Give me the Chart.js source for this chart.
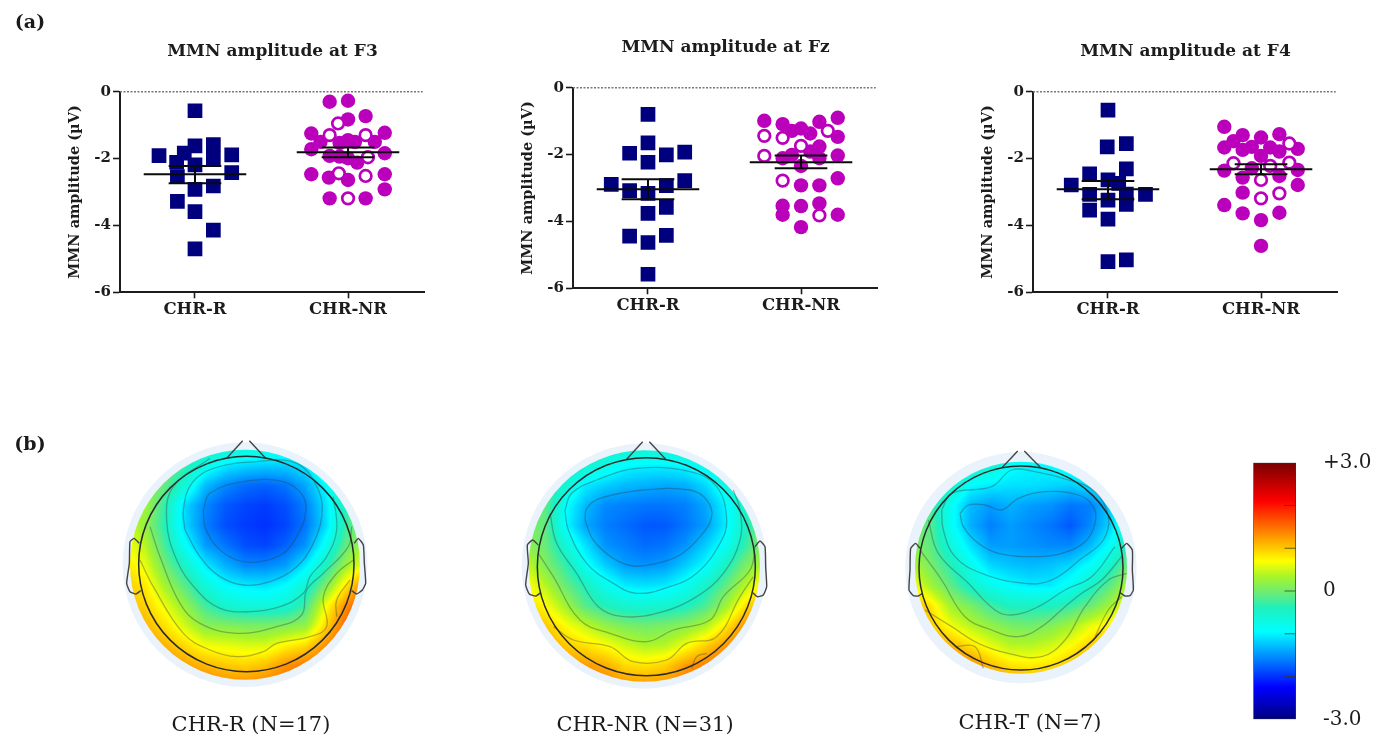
<!DOCTYPE html>
<html><head><meta charset="utf-8">
<script src="https://cdn.jsdelivr.net/npm/chart.js@4"></script>
<style>
html,body{margin:0;padding:0;background:#fff;overflow:hidden}
#page{position:relative;width:1375px;height:739px;overflow:hidden;filter:blur(0.45px)}
canvas{position:absolute}
.t{position:absolute;font-family:"DejaVu Serif",serif;color:#1a1a1a;white-space:nowrap;transform:translate(-50%,-50%)}
.p{font-weight:bold;font-size:19px}
.c{font-size:21px}
</style></head><body><div id="page">
<div class="t p" style="left:30px;top:21px">(a)</div>
<div class="t p" style="left:30px;top:443px">(b)</div>
<div class="t c" style="left:251px;top:724px">CHR-R (N=17)</div>
<div class="t c" style="left:645px;top:724px">CHR-NR (N=31)</div>
<div class="t c" style="left:1030px;top:722px">CHR-T (N=7)</div>
</div>
<script>
const categories=['CHR-R','CHR-NR'];
const yTicks=[0,-2,-4,-6];
const f3Rx=[1,.765,1,1.12,1.24,.93,.88,1.12,1,.885,1.24,1,1.12,.885,1,1.12,1];
const f3Ry=[-.57,-1.91,-1.62,-1.58,-1.89,-1.84,-2.11,-2.01,-2.19,-2.54,-2.42,-2.92,-2.82,-3.28,-3.59,-4.14,-4.70];
const f3Nx=[1.88,2,2.115,2,1.76,2.24,1.82,2.175,1.76,2.24,1.945,2,2.045,1.88,2,2.06,1.945,1.76,1.875,2,2.24,2.24,1.88,2.115];
const f3Ny=[-.30,-.27,-.73,-.83,-1.25,-1.23,-1.50,-1.50,-1.72,-1.84,-1.53,-1.45,-1.50,-1.92,-1.99,-2.12,-1.94,-2.47,-2.57,-2.64,-2.47,-2.92,-3.19,-3.19];
const f3Ox=[1.935,1.88,2.115,2.13,1.94,2.115,2];
const f3Oy=[-.95,-1.30,-1.30,-1.96,-2.44,-2.52,-3.19];
const f3Mean=[-2.47,-1.81], f3Up=[-2.22,-1.67], f3Low=[-2.74,-1.96];
const fzRx=[1,1,.88,1.12,1.24,1,.76,.88,1.12,1.24,1,1.12,1,.88,1.12,1,1];
const fzRy=[-.8,-1.65,-1.96,-2.01,-1.93,-2.23,-2.89,-3.08,-2.93,-2.78,-3.16,-3.58,-3.76,-4.44,-4.42,-4.63,-5.58];
const fzNx=[1.76,1.88,1.94,2,2.06,2.12,2.24,2.24,2.12,2.06,1.94,1.88,2,2.24,2.12,2.24,2,2.12,1.88,2,2.12,1.88,2.24,2];
const fzNy=[-.99,-1.09,-1.29,-1.22,-1.37,-1.02,-.90,-1.47,-1.76,-1.91,-2.01,-2.11,-2.34,-2.03,-2.11,-2.71,-2.92,-2.92,-3.53,-3.54,-3.46,-3.80,-3.80,-4.17];
const fzOx=[1.76,1.88,2.175,2,1.76,1.88,2.12];
const fzOy=[-1.44,-1.50,-1.29,-1.74,-2.04,-2.78,-3.82];
const fzMean=[-3.04,-2.23], fzUp=[-2.74,-2.03], fzLow=[-3.34,-2.41];
const f4Rx=[1,.995,1.12,1.12,.88,.76,1,1.07,.88,1,1.12,1.12,1.245,.88,1,1,1.12];
const f4Ry=[-.55,-1.65,-1.55,-2.31,-2.46,-2.79,-2.64,-2.74,-3.07,-3.24,-3.06,-3.37,-3.07,-3.54,-3.81,-5.08,-5.03];
const f4Nx=[1.76,1.88,1.82,2,2.12,1.76,1.88,1.94,2.06,2.12,2.24,2,1.76,1.94,2.24,1.88,2.12,2.24,1.88,1.76,1.88,2.12,2,2];
const f4Ny=[-1.05,-1.30,-1.48,-1.37,-1.27,-1.67,-1.74,-1.65,-1.67,-1.79,-1.71,-1.92,-2.36,-2.29,-2.34,-2.57,-2.52,-2.79,-3.02,-3.39,-3.64,-3.62,-3.84,-4.61];
const f4Ox=[2.185,1.82,2.06,2.185,2,2.12,2];
const f4Oy=[-1.55,-2.14,-2.22,-2.12,-2.64,-3.04,-3.19];
const f4Mean=[-2.92,-2.32], f4Up=[-2.67,-2.17], f4Low=[-3.22,-2.47];

// scalp maps: amplitude (µV) sampled on a coarse grid of the map area
const gridNodes=[45,105,165,225,285,345,405,465,525,585,645,705,765];
const topoR=[
[.3,.25,.1,-.1,-.3,-.45,-.55,-.6,-.6,-.45,-.2,.1,.3],
[.4,.3,.1,-.3,-.75,-1.05,-1.15,-1.2,-1.2,-1.05,-.6,-.1,.3],
[.45,.3,-.1,-.65,-1.3,-1.55,-1.7,-1.75,-1.65,-1.4,-.95,-.3,.2],
[.5,.3,-.35,-1.15,-1.55,-1.8,-1.9,-1.95,-1.85,-1.6,-1.1,-.4,.15],
[.55,.2,-.4,-1.15,-1.6,-1.85,-1.95,-2.0,-1.9,-1.65,-1.15,-.3,.25],
[.7,.4,-.25,-.9,-1.45,-1.65,-1.85,-1.9,-1.75,-1.5,-.85,-.1,.4],
[.85,.6,.0,-.5,-1.05,-1.35,-1.55,-1.55,-1.45,-1.05,-.45,.25,.7],
[1.0,.8,.3,-.15,-.65,-.95,-1.05,-1.1,-.95,-.6,.05,.8,1.4],
[1.05,.95,.6,.2,-.25,-.55,-.65,-.65,-.6,-.25,.65,1.3,1.8],
[1.2,1.1,.85,.5,.15,.1,.05,.05,.1,.2,.9,1.55,2.0],
[1.35,1.25,1.1,.9,.65,.6,.55,.55,.75,.9,1.3,1.7,2.0],
[1.5,1.4,1.35,1.2,1.1,1.0,.95,1.05,1.3,1.45,1.6,1.8,2.0],
[1.6,1.55,1.5,1.45,1.4,1.35,1.35,1.4,1.5,1.6,1.7,1.8,1.9]];
const topoN=[
[.1,.0,-.15,-.3,-.4,-.45,-.45,-.45,-.4,-.3,-.15,.0,.2],
[.1,-.05,-.3,-.55,-.75,-.95,-1.0,-1.0,-.95,-.75,-.45,-.15,.15],
[.05,-.1,-.6,-1.05,-1.2,-1.3,-1.35,-1.4,-1.35,-1.15,-.75,-.35,.05],
[.05,-.1,-.9,-1.3,-1.55,-1.6,-1.65,-1.65,-1.6,-1.4,-1.0,-.45,.05],
[.1,-.1,-.95,-1.4,-1.6,-1.7,-1.8,-1.8,-1.65,-1.45,-1.05,-.45,.1],
[.2,-.05,-.6,-1.1,-1.5,-1.6,-1.7,-1.65,-1.5,-1.2,-.85,-.3,.2],
[.5,.1,-.3,-.85,-1.2,-1.45,-1.5,-1.45,-1.2,-.95,-.45,.05,.45],
[.75,.4,-.05,-.4,-.8,-1.05,-1.1,-1.05,-.85,-.5,-.1,.4,.85],
[.95,.7,.3,-.15,-.4,-.55,-.6,-.55,-.45,-.2,.25,.85,1.25],
[1.1,1.0,.7,.45,.2,.05,.0,.05,.15,.35,.8,1.3,1.6],
[1.35,1.25,1.0,.85,.7,.5,.35,.4,.65,.95,1.25,1.6,1.8],
[1.55,1.5,1.3,1.25,1.15,.9,.85,.95,1.25,1.4,1.6,1.8,1.9],
[1.7,1.6,1.5,1.45,1.4,1.3,1.25,1.3,1.45,1.6,1.75,1.85,1.9]];
const topoT=[
[-.1,-.1,-.15,-.25,-.35,-.45,-.55,-.55,-.5,-.35,-.2,.0,.1],
[-.1,-.1,-.25,-.4,-.6,-.9,-1.0,-.95,-.8,-.65,-.45,-.1,.05],
[-.05,-.15,-.5,-.95,-1.05,-1.1,-1.1,-1.15,-1.2,-1.1,-.8,-.35,.0],
[-.05,-.2,-.85,-1.3,-1.45,-1.35,-1.45,-1.5,-1.65,-1.6,-1.2,-.6,.0],
[.05,-.15,-.85,-1.35,-1.6,-1.45,-1.55,-1.65,-1.8,-1.55,-1.15,-.5,.05],
[.15,-.1,-.65,-1.1,-1.45,-1.45,-1.5,-1.55,-1.55,-1.3,-.9,-.3,.2],
[.4,.05,-.35,-.8,-1.15,-1.25,-1.3,-1.25,-1.15,-.9,-.5,.05,.4],
[.75,.3,-.1,-.5,-.8,-.95,-1.05,-1.05,-.85,-.5,-.1,.4,.7],
[1.2,.85,.3,.05,-.25,-.45,-.45,-.45,-.3,-.05,.3,.75,1.05],
[1.35,1.0,.65,.4,.2,.05,.0,.1,.3,.6,.8,1.1,1.3],
[1.6,1.3,1.1,.85,.6,.4,.4,.5,.7,.95,1.15,1.35,1.4],
[1.75,1.6,1.5,1.35,1.05,.85,.8,.85,1.0,1.25,1.4,1.5,1.5],
[1.8,1.7,1.6,1.5,1.4,1.3,1.2,1.2,1.3,1.4,1.5,1.5,1.5]];

// isopotential lines, [x,y,x,y,...] in map units
const contoursR=[
[280,240,300,190,400,155,520,155,580,200,585,260,560,320,520,370,450,395,380,390,320,350,285,290,280,240],
[225,300,220,240,245,160,310,115,440,95,560,100,625,180,635,260,610,340,560,410,480,455,400,465,330,440,270,380,225,300],
[300,85,190,170,170,270,200,390,260,480,330,535,420,545,510,530,580,490,600,440,650,380,680,300,670,200],
[120,290,150,380,210,520,270,580,380,610,500,590,575,555,590,480,640,430,715,350,725,290],
[90,390,130,470,220,610,300,660,380,680,460,665,500,640,600,620,650,590,640,500,680,430,730,390],
[720,450,680,510,680,560]];
const contoursN=[
[225,270,230,235,270,205,400,180,540,180,590,210,605,260,570,320,510,375,440,400,370,408,310,385,250,330,225,270],
[165,240,185,190,260,150,380,115,540,125,620,170,650,270,630,340,560,430,480,470,380,490,310,460,230,400,175,300,165,240],
[120,250,140,340,200,430,265,530,340,560,460,545,560,500,640,430,690,330,690,240,670,180],
[85,370,130,440,210,570,300,610,410,635,490,600,600,570,640,500,720,420,735,350],
[130,590,190,630,300,650,370,695,470,690,530,640,620,620,690,500,730,440],
[545,715,560,680,590,670]];
const contoursT=[
[195,250,220,225,270,225,320,240,370,205,450,185,550,195,595,230,600,280,570,335,500,370,420,380,310,370,250,340,205,290,195,250],
[140,240,170,190,290,170,350,120,420,125,520,150,600,185,640,260,625,330,560,385,470,450,390,460,260,430,180,380,145,300,140,240],
[100,270,130,370,220,460,300,540,350,555,430,530,510,480,590,440,660,350],
[75,360,140,450,210,560,290,600,370,620,440,590,510,530,560,490,620,450,680,380],
[90,540,170,590,250,640,340,670,440,680,510,630,570,530,640,450,695,430],
[180,650,240,650,265,715],
[600,620,640,540,680,500]];
const outlineR=[[350,85,398,32],[418,32,467,85],[88,340,72,325,60,335,58,400,50,460,60,485,78,492,92,482],[733,340,745,325,760,345,763,400,767,460,757,480,740,492,725,482]];
const outlineN=[[350,88,398,35],[418,35,467,88],[85,345,68,330,52,345,55,400,47,465,58,492,78,498,92,488],[735,350,750,333,765,350,767,410,770,470,760,495,742,500,728,488]];
const outlineT=[[322,112,368,63],[388,63,436,112],[75,355,62,340,47,355,45,420,42,480,55,497,70,498,83,490],[680,355,695,340,712,360,712,420,715,480,705,497,690,498,675,488]];

// colour scale (µV)
const cbarTicks=[-3,0,3];
const cbarMarks=[-2,-1,0,1,2];
const scaleStops=[-3,-2.25,-.95,-.4,-.1,.35,.7,2.1,3];
const scaleColors=[[0,0,127],[0,0,255],[0,255,255],[30,240,190],[96,235,130],[170,245,40],[255,255,0],[255,0,0],[120,0,0]];

function colour(v){
  if(v<=scaleStops[0])return scaleColors[0];
  for(let i=1;i<scaleStops.length;i++){
    if(v<=scaleStops[i]){
      const t=(v-scaleStops[i-1])/(scaleStops[i]-scaleStops[i-1]),a=scaleColors[i-1],b=scaleColors[i];
      return [a[0]+(b[0]-a[0])*t,a[1]+(b[1]-a[1])*t,a[2]+(b[2]-a[2])*t];
    }
  }
  return scaleColors[scaleColors.length-1];
}
function addCanvas(l,t,w,h){
  const c=document.createElement('canvas');
  c.width=w;c.height=h;
  c.style.left=l+'px';c.style.top=t+'px';c.style.width=w+'px';c.style.height=h+'px';
  document.getElementById('page').appendChild(c);
  return c.getContext('2d');
}
const xy=(xs,ys)=>xs.map((x,i)=>({x,y:ys[i]}));
const SERIF='"DejaVu Serif",serif';
const INK='#1c1c1c';

function dotPlot(box,title,rX,rY,nX,nY,oX,oY,mean,up,low){
  const xMin=.51,xMax=2.503;
  const seg=(x0,y0,x1,y1)=>({type:'scatter',showLine:true,pointRadius:0,borderColor:'#0a0a0a',borderWidth:2,data:[{x:x0,y:y0},{x:x1,y:y1}],clip:false,order:0});
  const bars=[];
  [1,2].forEach((c,i)=>{
    bars.push(seg(c-.335,mean[i],c+.335,mean[i]));
    bars.push(seg(c-.172,up[i],c+.172,up[i]));
    bars.push(seg(c-.172,low[i],c+.172,low[i]));
    bars.push(seg(c,up[i],c,low[i]));
  });
  new Chart(addCanvas(box.l,box.t,box.w,box.h),{type:'scatter',data:{datasets:[
    ...bars,
    {label:'open',data:xy(oX,oY),pointStyle:'circle',pointRadius:5.8,pointBorderWidth:2.7,pointBackgroundColor:'#fff',pointBorderColor:'#bb00bb',order:1},
    {label:'CHR-NR',data:xy(nX,nY),pointStyle:'circle',pointRadius:7.2,pointBorderWidth:0,pointBackgroundColor:'#bb00bb',order:2},
    {label:'CHR-R',data:xy(rX,rY),pointStyle:'rect',pointRadius:10.4,pointBorderWidth:0,pointBackgroundColor:'#00007f',order:2},
    {label:'zero',type:'scatter',showLine:true,pointRadius:0,borderColor:'#777',borderWidth:1.4,borderDash:[2,1.5],data:[{x:xMin,y:0},{x:xMax-.015,y:0}],clip:false,order:3}
  ]},options:{responsive:false,animation:false,events:[],
    layout:{padding:0,autoPadding:false},
    plugins:{legend:{display:false},tooltip:{enabled:false},
      title:{display:true,fullSize:false,text:title,color:INK,font:{family:SERIF,weight:'bold',size:17,lineHeight:1.2},padding:{top:1.8,bottom:box.top-22.2}}},
    scales:{
      x:{type:'linear',min:xMin,max:xMax,
        afterBuildTicks:s=>{s.ticks=[{value:1},{value:2}];},
        afterFit:s=>{s.height=box.bottom;s.paddingLeft=0;s.paddingRight=0;},
        ticks:{autoSkip:false,maxRotation:0,callback:v=>categories[v-1],color:INK,font:{family:SERIF,weight:'bold',size:16.5},padding:2},
        grid:{display:true,drawOnChartArea:false,drawTicks:true,tickLength:6,tickWidth:1.6,tickColor:INK},
        border:{display:true,width:2,color:INK}},
      y:{type:'linear',min:-6,max:0,
        afterBuildTicks:s=>{s.ticks=yTicks.map(value=>({value}));},
        afterFit:s=>{s.width=box.left;s.paddingTop=0;s.paddingBottom=0;},
        title:{display:true,text:'MMN amplitude (µV)',color:INK,font:{family:SERIF,weight:'bold',size:14.5},padding:{top:7,bottom:4}},
        ticks:{autoSkip:false,color:INK,font:{family:SERIF,weight:'bold',size:15},padding:2},
        grid:{display:true,drawOnChartArea:false,drawTicks:true,tickLength:7,tickWidth:1.6,tickColor:INK},
        border:{display:true,width:2,color:INK}}
    }}});
}
dotPlot({l:60,t:40,w:365,h:290,left:60,top:51.7,bottom:37.7},'MMN amplitude at F3',f3Rx,f3Ry,f3Nx,f3Ny,f3Ox,f3Oy,f3Mean,f3Up,f3Low);
dotPlot({l:513,t:36,w:365,h:290,left:60,top:51.7,bottom:37.7},'MMN amplitude at Fz',fzRx,fzRy,fzNx,fzNy,fzOx,fzOy,fzMean,fzUp,fzLow);
dotPlot({l:973,t:40,w:365,h:290,left:60,top:51.7,bottom:37.7},'MMN amplitude at F4',f4Rx,f4Ry,f4Nx,f4Ny,f4Ox,f4Oy,f4Mean,f4Up,f4Low);

const headPlugin={id:'head',
  beforeDatasetsDraw(chart,a,o){
    const {x,y}=chart.scales,ctx=chart.ctx,w=chart.width,h=chart.height;
    const px=(v)=>x.getPixelForValue(v),py=(v)=>y.getPixelForValue(v);
    const off=document.createElement('canvas');off.width=w;off.height=h;
    const oc=off.getContext('2d'),img=oc.createImageData(w,h),n=gridNodes,g=o.grid;
    const step=n[1]-n[0];
    for(let j=0;j<h;j++){
      const dy=Math.min(Math.max((y.getValueForPixel(j)-n[0])/step,0),n.length-1.001),r=Math.floor(dy),fy=dy-r;
      for(let i=0;i<w;i++){
        const dx=Math.min(Math.max((x.getValueForPixel(i)-n[0])/step,0),n.length-1.001),c=Math.floor(dx),fx=dx-c;
        const v=g[r][c]*(1-fx)*(1-fy)+g[r][c+1]*fx*(1-fy)+g[r+1][c]*(1-fx)*fy+g[r+1][c+1]*fx*fy;
        const rgb=colour(v),k=(j*w+i)*4;
        img.data[k]=rgb[0];img.data[k+1]=rgb[1];img.data[k+2]=rgb[2];img.data[k+3]=255;
      }
    }
    oc.putImageData(img,0,0);
    ctx.save();
    ctx.fillStyle='#eaf2fb';
    ctx.beginPath();ctx.arc(px(o.disc[0]),py(o.disc[1]),px(o.halo)-px(0),0,7);ctx.fill();
    ctx.beginPath();ctx.arc(px(o.disc[0]),py(o.disc[1]),px(o.disc[2])-px(0),0,7);ctx.clip();
    ctx.drawImage(off,0,0);
    ctx.restore();
  },
  afterDatasetsDraw(chart,a,o){
    const {x,y}=chart.scales,ctx=chart.ctx;
    ctx.save();ctx.strokeStyle='#2a2a2a';ctx.lineWidth=1.5;
    ctx.beginPath();ctx.arc(x.getPixelForValue(o.ring[0]),y.getPixelForValue(o.ring[1]),x.getPixelForValue(o.ring[2])-x.getPixelForValue(0),0,7);ctx.stroke();
    ctx.restore();
  }};
function pairs(a){const r=[];for(let i=0;i<a.length;i+=2)r.push({x:a[i],y:a[i+1]});return r;}
function headMap(l,t,grid,contours,outline,disc,halo,ring){
  const ds=[
    ...outline.map(p=>({data:pairs(p),showLine:true,pointRadius:0,borderColor:'#444',borderWidth:1.4,tension:.15,clip:false})),
    ...contours.map(p=>({data:pairs(p),showLine:true,pointRadius:0,borderColor:'rgba(50,60,60,.36)',borderWidth:1.3,tension:.4,clip:false}))
  ];
  new Chart(addCanvas(l,t,270,270),{type:'scatter',data:{datasets:ds},plugins:[headPlugin],options:{responsive:false,animation:false,events:[],
    layout:{padding:0,autoPadding:false},
    plugins:{legend:{display:false},tooltip:{enabled:false},head:{grid,disc,halo,ring}},
    scales:{x:{type:'linear',display:false,min:0,max:810},y:{type:'linear',display:false,min:0,max:810,reverse:true}}}});
}
headMap(110,430,topoR,contoursR,outlineR,[405,404,345],367,[409,402,323]);
headMap(510,430,topoN,contoursN,outlineN,[403,408,347],368,[409,410,327]);
headMap(895,430,topoT,contoursT,outlineT,[378,413,318],347,[378,414,306]);

new Chart(addCanvas(1240,445,135,294),{type:'bar',data:{datasets:[
  {type:'scatter',data:cbarMarks.map(y=>({x:.86,y})),pointStyle:'line',pointRadius:5.5,pointBorderWidth:1,pointBorderColor:'rgba(50,60,30,.75)',order:0},
  {type:'bar',data:[{x:.5,y:[-3,3]}],barThickness:42.7,borderWidth:1,borderSkipped:false,borderColor:'#333',order:1,
   backgroundColor:c=>{
     const s=c.chart.scales.y;if(!s||!isFinite(s.top))return '#888';
     const g=c.chart.ctx.createLinearGradient(0,s.getPixelForValue(-3),0,s.getPixelForValue(3));
     scaleStops.forEach((v,i)=>{const r=scaleColors[i];g.addColorStop((v+3)/6,`rgb(${r[0]},${r[1]},${r[2]})`);});
     return g;}}
]},options:{responsive:false,animation:false,events:[],
  layout:{padding:{left:13.3,top:17.7,bottom:19.7,right:0},autoPadding:false},
  plugins:{legend:{display:false},tooltip:{enabled:false}},
  scales:{
    x:{type:'linear',display:false,min:0,max:1,offset:false},
    y:{position:'right',min:-3,max:3,
      afterBuildTicks:s=>{s.ticks=cbarTicks.map(value=>({value}));},
      afterFit:s=>{s.width=79;s.paddingTop=0;s.paddingBottom=0;},
      grid:{display:false},border:{display:false},
      ticks:{autoSkip:false,padding:19,color:INK,font:{family:SERIF,size:20},callback:v=>v>0?'+3.0':v<0?'-3.0':'0'}}
  }}});
</script></body></html>
